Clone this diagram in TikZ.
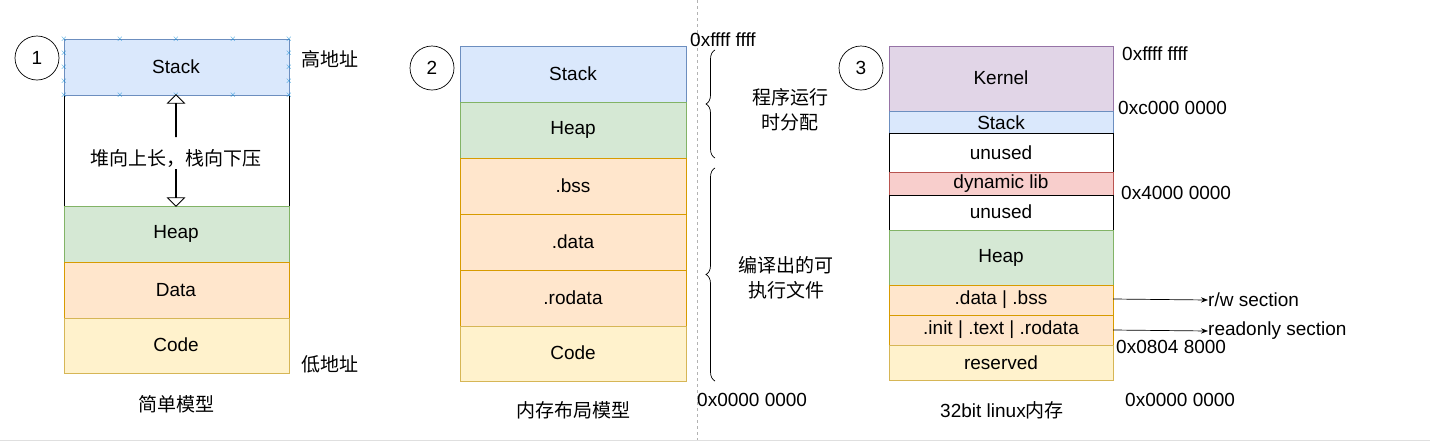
\documentclass[tikz,border=0pt]{standalone}
\usepackage{fontspec}
\setmainfont{Liberation Sans}
\newfontfamily\cjk{Noto Sans CJK SC}
\usetikzlibrary{arrows.meta,shapes.arrows,decorations.pathreplacing}
\definecolor{bF}{HTML}{DAE8FC}\definecolor{bD}{HTML}{6C8EBF}
\definecolor{gF}{HTML}{D5E8D4}\definecolor{gD}{HTML}{82B366}
\definecolor{oF}{HTML}{FFE6CC}\definecolor{oD}{HTML}{D79B00}
\definecolor{yF}{HTML}{FFF2CC}\definecolor{yD}{HTML}{D6B656}
\definecolor{pF}{HTML}{E1D5E7}\definecolor{pD}{HTML}{9673A6}
\definecolor{rF}{HTML}{F8CECC}\definecolor{rD}{HTML}{B85450}
\tikzset{
 x=1pt,y=-1pt,
 every node/.style={font=\fontsize{19}{23}\selectfont,inner sep=0pt},
 seg/.style={draw,line width=0.8pt},
 blue/.style={seg,fill=bF,draw=bD}, green/.style={seg,fill=gF,draw=gD},
 orange/.style={seg,fill=oF,draw=oD}, yellow/.style={seg,fill=yF,draw=yD},
 purple/.style={seg,fill=pF,draw=pD}, red/.style={seg,fill=rF,draw=rD},
 white/.style={seg,fill=white,draw=black},
 num/.style={draw,circle,minimum size=44pt,line width=0.7pt},
 lbl/.style={anchor=west},
 cn/.style={font=\fontsize{19}{25}\selectfont\cjk,align=center},
 handle/.style={text=cyan!70!blue,font=\fontsize{9}{9}\selectfont},
 barrow/.style={draw,single arrow,single arrow head extend=8pt,minimum width=17pt,minimum height=42pt,inner sep=0pt,fill=white,line width=0.8pt},
}
\newcommand{\seg}[6]{\path[#1] (#2,#3) rectangle (#4,#5) node[midway] (#6) {};}
\begin{document}
\begin{tikzpicture}
\useasboundingbox (0,0) rectangle (1430,445);
\draw[gray!60,dashed] (697,0) -- (697,440);
\draw[gray!25] (0,440) -- (1430,440);
% panel 1
\node[num] (c1) at (37,58) {1};
\draw[line width=0.8pt] (64,95) -- (64,206) (289,95) -- (289,206);
\path[blue] (64,39) rectangle (289,95);
\node (s1) at (176,67) {Stack};
\path[green] (64,206) rectangle (289,262); \node (h1) at (176,234) {Heap};
\path[orange] (64,262) rectangle (289,318); \node (d1) at (176,290) {Data};
\path[yellow] (64,318) rectangle (289,373); \node (k1) at (176,345) {Code};
\foreach \x in {64,120,176,233,289}{\node[handle] at (\x,39) {$\times$};\node[handle] at (\x,95) {$\times$};}
\foreach \y in {53,67,81}{\node[handle] at (64,\y) {$\times$};\node[handle] at (289,\y) {$\times$};}
\node[barrow,rotate=90] (up) at (176,116) {};
\node[barrow,rotate=-90] (dn) at (176,185) {};
\node[cn,fill=white,inner sep=1pt] (t1) at (176,159) {堆向上长，栈向下压};
\node[cn,lbl] (hi) at (301,59) {高地址};
\node[cn,lbl] (lo) at (301,364) {低地址};
\node[cn] (m1) at (176,404) {简单模型};
% panel 2
\node[num] (c2) at (432,68) {2};
\path[blue] (460,46) rectangle (686,102); \node (s2) at (573,74) {Stack};
\path[green] (460,102) rectangle (686,158); \node (h2) at (573,130) {Heap};
\path[orange] (460,158) rectangle (686,214); \node (b2) at (573,186) {.bss};
\path[orange] (460,214) rectangle (686,270); \node (da2) at (573,242) {.data};
\path[orange] (460,270) rectangle (686,326); \node (r2) at (573,298) {.rodata};
\path[yellow] (460,326) rectangle (686,381); \node (k2) at (573,353) {Code};
\node[lbl] (f2) at (690,40) {0xffff ffff};
\node[lbl] (z2) at (697,400) {0x0000 0000};
\coordinate (b1a) at (715,50); \coordinate (b1b) at (715,158);
\coordinate (b2a) at (715,168); \coordinate (b2b) at (715,381);
\draw[decorate,decoration={brace,amplitude=9pt},line width=0.7pt] (b1b) -- (b1a);
\draw[decorate,decoration={brace,amplitude=9pt},line width=0.7pt] (b2b) -- (b2a);
\node[cn] (rt) at (790,110) {程序运行\\时分配};
\node[cn] (ex) at (786,278) {编译出的可\\执行文件};
\node[cn] (m2) at (573,410) {内存布局模型};
% panel 3
\node[num] (c3) at (861,68) {3};
\path[purple] (889,46) rectangle (1113,111); \node (ke) at (1001,78) {Kernel};
\path[blue] (889,111) rectangle (1113,133); \node (s3) at (1001,123) {Stack};
\path[white] (889,133) rectangle (1113,172); \node (u1) at (1001,153) {unused};
\path[red] (889,172) rectangle (1113,195); \node (dl) at (1001,184) {dynamic lib};
\path[white] (889,195) rectangle (1113,230); \node (u2) at (1001,212) {unused};
\path[green] (889,230) rectangle (1113,285); \node (h3) at (1001,258) {Heap};
\path[orange] (889,285) rectangle (1113,315); \node (db) at (1001,300) {.data | .bss};
\path[orange] (889,315) rectangle (1113,345); \node (it) at (1001,330) {.init | .text | .rodata};
\path[yellow] (889,345) rectangle (1113,380); \node (rs) at (1001,363) {reserved};
\node[lbl] (a1) at (1122,54) {0xffff ffff};
\node[lbl] (a2) at (1118,108) {0xc000 0000};
\node[lbl] (a3) at (1121,193) {0x4000 0000};
\node[lbl] (a4) at (1116,347) {0x0804 8000};
\node[lbl] (a5) at (1125,400) {0x0000 0000};
\node[lbl] (rw) at (1208,300) {r/w section};
\node[lbl] (ro) at (1208,331) {readonly section};
\draw[-{Stealth[length=7pt]},line width=0.7pt] (1113,299) -- (rw.west);
\draw[-{Stealth[length=7pt]},line width=0.7pt] (1113,330) -- (ro.west);
\node (m3) at (1002,410) {32bit linux{\cjk 内存}};
\end{tikzpicture}
\end{document}
